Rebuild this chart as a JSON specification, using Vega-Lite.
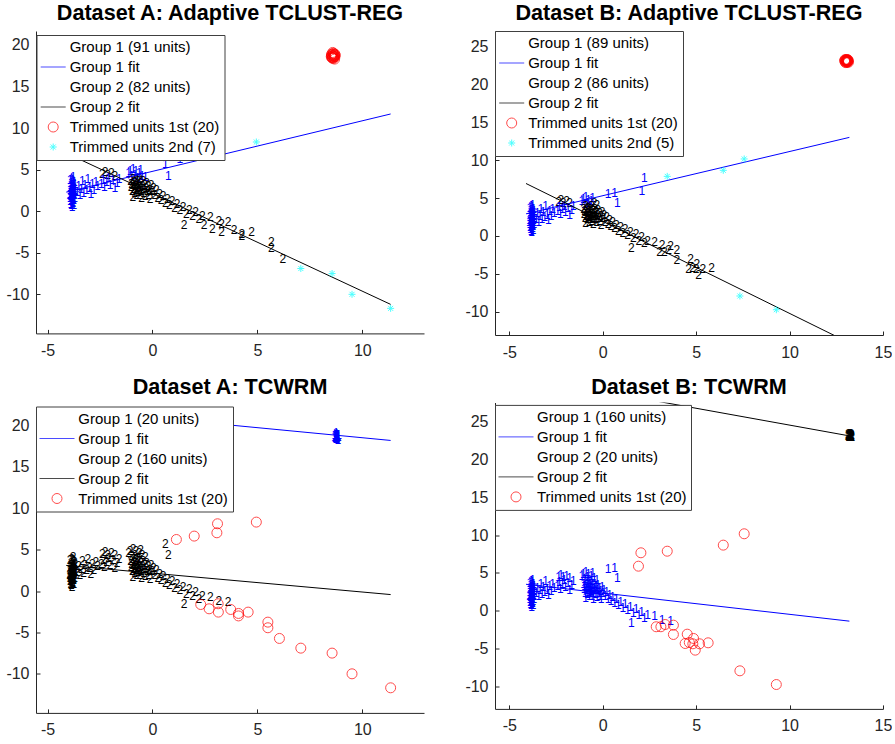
{
  "$schema": "https://vega.github.io/schema/vega-lite/v6.json",
  "background": "white",
  "padding": {"left": 5, "top": 2, "right": 0, "bottom": 0},
  "config": {
    "font": "Liberation Sans",
    "view": {"stroke": null},
    "axis": {"grid": false, "title": null, "domainColor": "#262626", "tickColor": "#262626", "labelColor": "#262626", "labelFont": "Liberation Sans", "labelFontSize": 16, "tickSize": -4, "domainWidth": 1, "tickWidth": 1, "labelFlush": false, "labelOverlap": false},
    "axisX": {"labelPadding": 13},
    "axisY": {"labelPadding": 11},
    "title": {"font": "Liberation Sans", "fontSize": 21.6, "fontWeight": "bold", "color": "#000000", "anchor": "middle", "baseline": "alphabetic"},
    "legend": {"orient": "none", "padding": 4.5, "rowPadding": 4, "labelFontSize": 15, "labelFont": "Liberation Sans", "labelColor": "#000000", "labelLimit": 0, "fillColor": "#ffffff", "strokeColor": "#404040", "symbolSize": 100, "symbolStrokeWidth": 1}
  },
  "datasets": {
    "fits": [
      {"p": "AA", "g": "1", "x": -4.11, "y": 2.3}, {"p": "AA", "g": "1", "x": 11.35, "y": 11.7},
      {"p": "AA", "g": "2", "x": -4.11, "y": 7.0}, {"p": "AA", "g": "2", "x": 11.35, "y": -11.2},
      {"p": "AB", "g": "1", "x": -4.11, "y": 2.92}, {"p": "AB", "g": "1", "x": 13.2, "y": 13.02},
      {"p": "AB", "g": "2", "x": -4.11, "y": 6.93}, {"p": "AB", "g": "2", "x": 13.2, "y": -14.12},
      {"p": "TA", "g": "1", "x": -4.11, "y": 21.95}, {"p": "TA", "g": "1", "x": 11.35, "y": 18.19},
      {"p": "TA", "g": "2", "x": -4.11, "y": 3.1}, {"p": "TA", "g": "2", "x": 11.35, "y": -0.42},
      {"p": "TB", "g": "1", "x": -4.11, "y": 3.5}, {"p": "TB", "g": "1", "x": 13.2, "y": -1.37},
      {"p": "TB", "g": "2", "x": -4.11, "y": 30.8}, {"p": "TB", "g": "2", "x": 13.2, "y": 23.1}
    ],
    "pts": [
      {"x": -4.1, "y": 2.1, "a": "1", "b": "1", "ta": "2", "tb": "1"},
      {"x": -4.08, "y": 1.6, "a": "1", "b": "1", "ta": "2", "tb": "1"},
      {"x": -4.06, "y": 2.9, "a": "1", "b": "1", "ta": "2", "tb": "1"},
      {"x": -4.05, "y": 0.9, "a": "1", "b": "1", "ta": "2", "tb": "1"},
      {"x": -4.04, "y": 3.4, "a": "1", "b": "1", "ta": "2", "tb": "1"},
      {"x": -4.03, "y": 1.3, "a": "1", "b": "1", "ta": "2", "tb": "1"},
      {"x": -4.02, "y": 2.4, "a": "1", "b": "1", "ta": "2", "tb": "1"},
      {"x": -4.01, "y": 3.9, "a": "1", "b": "1", "ta": "2", "tb": "1"},
      {"x": -4.0, "y": 1.8, "a": "1", "b": "1", "ta": "2", "tb": "1"},
      {"x": -3.99, "y": 0.5, "a": "1", "b": "1", "ta": "2", "tb": "1"},
      {"x": -3.98, "y": 2.7, "a": "1", "b": "1", "ta": "2", "tb": "1"},
      {"x": -3.97, "y": 1.1, "a": "1", "b": "1", "ta": "2", "tb": "1"},
      {"x": -3.96, "y": 3.1, "a": "1", "b": "1", "ta": "2", "tb": "1"},
      {"x": -3.95, "y": 2.0, "a": "1", "b": "1", "ta": "2", "tb": "1"},
      {"x": -3.94, "y": 1.5, "a": "1", "b": "1", "ta": "2", "tb": "1"},
      {"x": -3.93, "y": 3.6, "a": "1", "b": "1", "ta": "2", "tb": "1"},
      {"x": -3.92, "y": 2.3, "a": "1", "b": "1", "ta": "2", "tb": "1"},
      {"x": -3.91, "y": 0.8, "a": "1", "b": "1", "ta": "2", "tb": "1"},
      {"x": -3.9, "y": 2.8, "a": "1", "b": "1", "ta": "2", "tb": "1"},
      {"x": -3.89, "y": 1.9, "a": "1", "b": "1", "ta": "2", "tb": "1"},
      {"x": -4.09, "y": 2.5, "a": "1", "b": "1", "ta": "2", "tb": "1"},
      {"x": -4.07, "y": 1.2, "a": "1", "b": "1", "ta": "2", "tb": "1"},
      {"x": -4.05, "y": 3.2, "a": "1", "b": "1", "ta": "2", "tb": "1"},
      {"x": -4.03, "y": 2.0, "a": "1", "b": "1", "ta": "2", "tb": "1"},
      {"x": -4.01, "y": 1.4, "a": "1", "b": "1", "ta": "2", "tb": "1"},
      {"x": -3.99, "y": 2.6, "a": "1", "b": "1", "ta": "2", "tb": "1"},
      {"x": -3.97, "y": 3.8, "a": "1", "b": "1", "ta": "2", "tb": "1"},
      {"x": -3.95, "y": 1.0, "a": "1", "b": "1", "ta": "2", "tb": "1"},
      {"x": -3.93, "y": 2.2, "a": "1", "b": "1", "ta": "2", "tb": "1"},
      {"x": -3.91, "y": 3.0, "a": "1", "b": "1", "ta": "2", "tb": "1"},
      {"x": -4.08, "y": 3.7, "a": "1", "b": "1", "ta": "2", "tb": "1"},
      {"x": -4.06, "y": 1.8, "a": "1", "b": "1", "ta": "2", "tb": "1"},
      {"x": -4.04, "y": 2.2, "a": "1", "b": "1", "ta": "2", "tb": "1"},
      {"x": -4.02, "y": 0.7, "a": "1", "b": "1", "ta": "2", "tb": "1"},
      {"x": -4.0, "y": 2.9, "a": "1", "b": "1", "ta": "2", "tb": "1"},
      {"x": -3.98, "y": 1.7, "a": "1", "b": "1", "ta": "2", "tb": "1"},
      {"x": -3.96, "y": 2.5, "a": "1", "b": "1", "ta": "2", "tb": "1"},
      {"x": -3.94, "y": 4.1, "a": "1", "b": "1", "ta": "2", "tb": "1"},
      {"x": -3.92, "y": 1.3, "a": "1", "b": "1", "ta": "2", "tb": "1"},
      {"x": -3.9, "y": 2.1, "a": "1", "b": "1", "ta": "2", "tb": "1"},
      {"x": -3.88, "y": 2.6, "a": "1", "b": "1", "ta": "2", "tb": "1"},
      {"x": -3.87, "y": 1.6, "a": "1", "b": "1", "ta": "2", "tb": "1"},
      {"x": -3.86, "y": 3.3, "a": "1", "b": "1", "ta": "2", "tb": "1"},
      {"x": -3.85, "y": 2.4, "a": "1", "b": "1", "ta": "2", "tb": "1"},
      {"x": -4.11, "y": 1.9, "a": "1", "b": "1", "ta": "2", "tb": "1"},
      {"x": -4.0, "y": 2.3, "a": "1", "b": "1", "ta": "2", "tb": "1"},
      {"x": -3.96, "y": 1.9, "a": "1", "b": "1", "ta": "2", "tb": "1"},
      {"x": -3.92, "y": 2.7, "a": "1", "b": "1", "ta": "2", "tb": "1"},
      {"x": -4.04, "y": 1.6, "a": "1", "b": "1", "ta": "2", "tb": "1"},
      {"x": -3.88, "y": 3.5, "a": "1", "b": "1", "ta": "2", "tb": "1"},
      {"x": -3.97, "y": 2.2, "a": "1", "ta": "2"},
      {"x": -3.75, "y": 2.3, "a": "1", "b": "1", "ta": "2", "tb": "1"},
      {"x": -3.68, "y": 3.0, "a": "1", "b": "1", "ta": "2", "tb": "1"},
      {"x": -3.62, "y": 1.9, "a": "1", "b": "1", "ta": "2", "tb": "1"},
      {"x": -3.55, "y": 2.7, "a": "1", "b": "1", "ta": "2", "tb": "1"},
      {"x": -3.5, "y": 3.6, "a": "1", "b": "1", "ta": "2", "tb": "1"},
      {"x": -3.44, "y": 2.2, "a": "1", "b": "1", "ta": "2", "tb": "1"},
      {"x": -3.38, "y": 3.1, "a": "1", "b": "1", "ta": "2", "tb": "1"},
      {"x": -3.3, "y": 2.5, "a": "1", "b": "1", "ta": "2", "tb": "1"},
      {"x": -3.24, "y": 3.9, "a": "1", "b": "1", "ta": "2", "tb": "1"},
      {"x": -3.16, "y": 2.8, "a": "1", "b": "1", "ta": "2", "tb": "1"},
      {"x": -3.1, "y": 2.1, "a": "1", "b": "1", "ta": "2", "tb": "1"},
      {"x": -3.02, "y": 3.3, "a": "1", "b": "1", "ta": "2", "tb": "1"},
      {"x": -2.95, "y": 2.6, "a": "1", "b": "1", "ta": "2", "tb": "1"},
      {"x": -2.86, "y": 3.5, "a": "1", "b": "1", "ta": "2", "tb": "1"},
      {"x": -2.78, "y": 3.0, "a": "1", "b": "1", "ta": "2", "tb": "1"},
      {"x": -2.55, "y": 4.5, "a": "2", "b": "2", "ta": "2", "tb": "1"},
      {"x": -2.42, "y": 4.7, "a": "2", "b": "2", "ta": "2", "tb": "1"},
      {"x": -2.3, "y": 4.4, "a": "2", "b": "2", "ta": "2", "tb": "1"},
      {"x": -2.12, "y": 4.6, "a": "2", "b": "2", "ta": "2", "tb": "1"},
      {"x": -1.95, "y": 4.3, "a": "2", "b": "2", "ta": "2", "tb": "1"},
      {"x": -2.6, "y": 3.3, "a": "1", "b": "1", "ta": "2", "tb": "1"},
      {"x": -2.5, "y": 3.8, "a": "1", "b": "1", "ta": "2", "tb": "1"},
      {"x": -2.45, "y": 2.9, "a": "1", "b": "1", "ta": "2", "tb": "1"},
      {"x": -2.35, "y": 3.5, "a": "1", "b": "1", "ta": "2", "tb": "1"},
      {"x": -2.25, "y": 4.0, "a": "1", "b": "1", "ta": "2", "tb": "1"},
      {"x": -2.18, "y": 3.1, "a": "1", "b": "1", "ta": "2", "tb": "1"},
      {"x": -2.05, "y": 3.7, "a": "1", "b": "1", "ta": "2", "tb": "1"},
      {"x": -1.95, "y": 2.8, "a": "1", "b": "1", "ta": "2", "tb": "1"},
      {"x": -1.85, "y": 3.4, "a": "1", "b": "1", "ta": "2", "tb": "1"},
      {"x": -1.75, "y": 3.9, "a": "1", "b": "1", "ta": "2", "tb": "1"},
      {"x": -1.3, "y": 4.6, "a": "1", "b": "1", "ta": "2", "tb": "1"},
      {"x": -1.22, "y": 4.9, "a": "1", "b": "1", "ta": "2", "tb": "1"},
      {"x": -1.15, "y": 4.2, "a": "1", "b": "1", "ta": "2", "tb": "1"},
      {"x": -1.08, "y": 5.1, "a": "1", "b": "1", "ta": "2", "tb": "1"},
      {"x": -1.0, "y": 4.4, "a": "1", "b": "1", "ta": "2", "tb": "1"},
      {"x": -0.95, "y": 4.8, "a": "1", "b": "1", "ta": "2", "tb": "1"},
      {"x": -0.88, "y": 4.0, "a": "1", "b": "1", "ta": "2", "tb": "1"},
      {"x": -0.8, "y": 4.6, "a": "1", "b": "1", "ta": "2", "tb": "1"},
      {"x": -0.72, "y": 5.0, "a": "1", "b": "1", "ta": "2", "tb": "1"},
      {"x": -0.65, "y": 4.3, "a": "1", "b": "2", "ta": "2", "tb": "1"},
      {"x": -0.5, "y": 4.1, "a": "1", "b": "2", "ta": "2", "tb": "1"},
      {"x": -1.2, "y": 3.6, "a": "2", "b": "2", "ta": "2", "tb": "1"},
      {"x": -1.18, "y": 2.9, "a": "2", "b": "2", "ta": "2", "tb": "1"},
      {"x": -1.15, "y": 3.3, "a": "2", "b": "2", "ta": "2", "tb": "1"},
      {"x": -1.12, "y": 2.4, "a": "2", "b": "2", "ta": "2", "tb": "1"},
      {"x": -1.1, "y": 3.9, "a": "2", "b": "2", "ta": "2", "tb": "1"},
      {"x": -1.08, "y": 3.1, "a": "2", "b": "2", "ta": "2", "tb": "1"},
      {"x": -1.05, "y": 2.7, "a": "2", "b": "2", "ta": "2", "tb": "1"},
      {"x": -1.02, "y": 3.5, "a": "2", "b": "2", "ta": "2", "tb": "1"},
      {"x": -1.0, "y": 2.2, "a": "2", "b": "2", "ta": "2", "tb": "1"},
      {"x": -0.98, "y": 3.0, "a": "2", "b": "2", "ta": "2", "tb": "1"},
      {"x": -0.96, "y": 3.7, "a": "2", "b": "2", "ta": "2", "tb": "1"},
      {"x": -0.94, "y": 2.5, "a": "2", "b": "2", "ta": "2", "tb": "1"},
      {"x": -0.92, "y": 3.3, "a": "2", "b": "2", "ta": "2", "tb": "1"},
      {"x": -0.9, "y": 1.9, "a": "2", "b": "2", "ta": "2", "tb": "1"},
      {"x": -0.88, "y": 2.8, "a": "2", "b": "2", "ta": "2", "tb": "1"},
      {"x": -0.86, "y": 3.6, "a": "2", "b": "2", "ta": "2", "tb": "1"},
      {"x": -0.84, "y": 2.3, "a": "2", "b": "2", "ta": "2", "tb": "1"},
      {"x": -0.82, "y": 3.1, "a": "2", "b": "2", "ta": "2", "tb": "1"},
      {"x": -0.8, "y": 2.6, "a": "2", "b": "2", "ta": "2", "tb": "1"},
      {"x": -0.78, "y": 3.9, "a": "2", "b": "2", "ta": "2", "tb": "1"},
      {"x": -0.76, "y": 2.0, "a": "2", "b": "2", "ta": "2", "tb": "1"},
      {"x": -0.74, "y": 2.9, "a": "2", "b": "2", "ta": "2", "tb": "1"},
      {"x": -0.72, "y": 3.4, "a": "2", "b": "2", "ta": "2", "tb": "1"},
      {"x": -0.7, "y": 2.4, "a": "2", "b": "2", "ta": "2", "tb": "1"},
      {"x": -0.68, "y": 1.6, "a": "2", "b": "2", "ta": "2", "tb": "1"},
      {"x": -0.65, "y": 3.0, "a": "2", "b": "2", "ta": "2", "tb": "1"},
      {"x": -0.62, "y": 2.7, "a": "2", "b": "2", "ta": "2", "tb": "1"},
      {"x": -0.6, "y": 3.6, "a": "2", "b": "2", "ta": "2", "tb": "1"},
      {"x": -0.57, "y": 2.2, "a": "2", "b": "2", "ta": "2", "tb": "1"},
      {"x": -0.54, "y": 3.2, "a": "2", "b": "2", "ta": "2", "tb": "1"},
      {"x": -0.5, "y": 1.8, "a": "2", "b": "2", "ta": "2", "tb": "1"},
      {"x": -0.47, "y": 2.8, "a": "2", "b": "2", "ta": "2", "tb": "1"},
      {"x": -0.44, "y": 3.4, "a": "2", "b": "2", "ta": "2", "tb": "1"},
      {"x": -0.4, "y": 2.4, "a": "2", "b": "2", "ta": "2", "tb": "1"},
      {"x": -0.37, "y": 3.0, "a": "2", "b": "2", "ta": "2", "tb": "1"},
      {"x": -0.34, "y": 2.0, "a": "2", "b": "2", "ta": "2", "tb": "1"},
      {"x": -0.3, "y": 2.6, "a": "2", "b": "2", "ta": "2", "tb": "1"},
      {"x": -0.27, "y": 1.5, "a": "2", "b": "2", "ta": "2", "tb": "1"},
      {"x": -1.1, "y": 1.7, "a": "2", "b": "2", "ta": "2", "tb": "1"},
      {"x": 0.1, "y": 5.5, "b": "1", "tb": "1"},
      {"x": 0.45, "y": 5.7, "a": "1", "b": "1", "ta": "2", "tb": "1"},
      {"x": 0.6, "y": 4.3, "a": "1", "b": "1", "ta": "2", "tb": "1"},
      {"x": -0.22, "y": 3.2, "a": "2", "b": "2", "ta": "2", "tb": "1"},
      {"x": -0.18, "y": 2.4, "a": "2", "b": "2", "ta": "2", "tb": "1"},
      {"x": -0.12, "y": 2.8, "a": "2", "b": "2", "ta": "2", "tb": "1"},
      {"x": -0.05, "y": 1.9, "a": "2", "b": "2", "ta": "2", "tb": "1"},
      {"x": 0.02, "y": 2.5, "a": "2", "b": "2", "ta": "2", "tb": "1"},
      {"x": 0.1, "y": 1.6, "a": "2", "b": "2", "ta": "2", "tb": "1"},
      {"x": 0.18, "y": 2.1, "a": "2", "b": "2", "ta": "2", "tb": "1"},
      {"x": 0.25, "y": 1.3, "a": "2", "b": "2", "ta": "2", "tb": "1"},
      {"x": 0.35, "y": 1.8, "a": "2", "b": "2", "ta": "2", "tb": "1"},
      {"x": 0.45, "y": 1.0, "a": "2", "b": "2", "ta": "2", "tb": "1"},
      {"x": 0.55, "y": 1.5, "a": "2", "b": "2", "ta": "2", "tb": "1"},
      {"x": 0.65, "y": 0.7, "a": "2", "b": "2", "ta": "2", "tb": "1"},
      {"x": 0.78, "y": 1.2, "a": "2", "b": "2", "ta": "2", "tb": "1"},
      {"x": 0.9, "y": 0.4, "a": "2", "b": "2", "ta": "2", "tb": "1"},
      {"x": 1.02, "y": 0.9, "a": "2", "b": "2", "ta": "2", "tb": "1"},
      {"x": 1.15, "y": 0.1, "a": "2", "b": "2", "ta": "2", "tb": "1"},
      {"x": 1.3, "y": 0.5, "a": "2", "b": "2", "ta": "2", "tb": "1"},
      {"x": 1.35, "y": -1.6, "a": "2", "b": "2", "ta": "2", "tb": "1"},
      {"x": 1.45, "y": -0.3, "a": "2", "b": "2", "ta": "2", "tb": "1"},
      {"x": 1.6, "y": 0.2, "a": "2", "b": "2", "ta": "2", "tb": "1"},
      {"x": 1.75, "y": -0.6, "a": "2", "b": "2", "ta": "2", "tb": "1"},
      {"x": 1.9, "y": -0.1, "a": "2", "b": "2", "ta": "2", "tb": "1"},
      {"x": 2.05, "y": -0.9, "a": "2", "b": "2", "ta": "2", "tb": "1"},
      {"x": 2.22, "y": -0.6, "a": "2", "b": "2", "ta": "2", "tb": "1"},
      {"x": 2.6, "y": -0.75, "a": "2", "b": "2", "ta": "2", "tb": "1"},
      {"x": 3.0, "y": -1.2, "a": "2", "b": "2", "ta": "2", "tb": "1"},
      {"x": 3.45, "y": -1.35, "a": "2", "b": "2", "ta": "2", "tb": "1"},

      {"x": 1.14, "y": 6.23, "a": "1", "ta": "o"},
      {"x": 1.99, "y": 6.64, "a": "1", "ta": "o"},
      {"x": 3.1, "y": 8.13, "a": "c", "ta": "o"},
      {"x": 3.07, "y": 7.04, "a": "c", "ta": "o"},
      {"x": 4.95, "y": 8.33, "a": "c", "ta": "o"},
      {"x": 2.3, "y": -1.62, "a": "2", "ta": "o"},
      {"x": 2.7, "y": -2.14, "a": "2", "ta": "o"},
      {"x": 3.13, "y": -1.53, "a": "2", "ta": "o"},
      {"x": 3.14, "y": -2.54, "a": "2", "ta": "o"},
      {"x": 3.73, "y": -2.22, "a": "2", "ta": "o"},
      {"x": 4.1, "y": -2.7, "a": "2", "ta": "o"},
      {"x": 4.1, "y": -3.0, "a": "2", "ta": "o"},
      {"x": 4.56, "y": -2.54, "a": "2", "ta": "o"},
      {"x": 5.5, "y": -3.75, "a": "2", "ta": "o"},
      {"x": 5.5, "y": -4.43, "a": "2", "ta": "o"},
      {"x": 6.05, "y": -5.72, "a": "2", "ta": "o"},
      {"x": 7.07, "y": -6.89, "a": "c", "ta": "o"},
      {"x": 8.56, "y": -7.49, "a": "c", "ta": "o"},
      {"x": 9.51, "y": -9.99, "a": "c", "ta": "o"},
      {"x": 11.35, "y": -11.68, "a": "c", "ta": "o"},
      {"x": 8.52, "y": 18.6, "a": "o", "ta": "1"},
      {"x": 8.55, "y": 18.9, "a": "o", "ta": "1"},
      {"x": 8.58, "y": 18.4, "a": "o", "ta": "1"},
      {"x": 8.6, "y": 18.7, "a": "o", "ta": "1"},
      {"x": 8.62, "y": 19.0, "a": "o", "ta": "1"},
      {"x": 8.64, "y": 18.5, "a": "o", "ta": "1"},
      {"x": 8.66, "y": 18.8, "a": "o", "ta": "1"},
      {"x": 8.68, "y": 18.3, "a": "o", "ta": "1"},
      {"x": 8.7, "y": 18.6, "a": "o", "ta": "1"},
      {"x": 8.53, "y": 18.8, "a": "o", "ta": "1"},
      {"x": 8.57, "y": 18.5, "a": "o", "ta": "1"},
      {"x": 8.61, "y": 18.9, "a": "o", "ta": "1"},
      {"x": 8.65, "y": 18.6, "a": "o", "ta": "1"},
      {"x": 8.69, "y": 18.9, "a": "o", "ta": "1"},
      {"x": 8.56, "y": 18.7, "a": "o", "ta": "1"},
      {"x": 8.63, "y": 18.4, "a": "o", "ta": "1"},
      {"x": 8.67, "y": 18.7, "a": "o", "ta": "1"},
      {"x": 8.59, "y": 19.1, "a": "o", "ta": "1"},
      {"x": 8.54, "y": 18.5, "a": "o", "ta": "1"},
      {"x": 8.71, "y": 18.8, "a": "o", "ta": "1"},

      {"x": 2.04, "y": 7.66, "b": "1", "tb": "o"},
      {"x": 1.91, "y": 5.89, "b": "1", "tb": "o"},
      {"x": 3.45, "y": 7.87, "b": "c", "tb": "o"},
      {"x": 6.45, "y": 8.67, "b": "c", "tb": "o"},
      {"x": 7.57, "y": 10.17, "b": "c", "tb": "o"},
      {"x": 2.86, "y": -2.11, "b": "2", "tb": "o"},
      {"x": 3.11, "y": -2.11, "b": "2", "tb": "o"},
      {"x": 3.34, "y": -1.81, "b": "2", "tb": "o"},
      {"x": 3.78, "y": -1.9, "b": "2", "tb": "o"},
      {"x": 3.78, "y": -3.13, "b": "2", "tb": "o"},
      {"x": 4.52, "y": -3.09, "b": "2", "tb": "o"},
      {"x": 4.41, "y": -4.32, "b": "2", "tb": "o"},
      {"x": 4.63, "y": -4.19, "b": "2", "tb": "o"},
      {"x": 4.86, "y": -3.66, "b": "2", "tb": "o"},
      {"x": 4.95, "y": -5.2, "b": "2", "tb": "o"},
      {"x": 5.18, "y": -4.36, "b": "2", "tb": "o"},
      {"x": 4.82, "y": -4.36, "b": "2", "tb": "o"},
      {"x": 5.64, "y": -4.23, "b": "2", "tb": "o"},
      {"x": 7.34, "y": -7.93, "b": "c", "tb": "o"},
      {"x": 9.29, "y": -9.74, "b": "c", "tb": "o"},
      {"x": 12.95, "y": 23.1, "b": "o", "tb": "2"},
      {"x": 12.97, "y": 23.3, "b": "o", "tb": "2"},
      {"x": 12.99, "y": 22.9, "b": "o", "tb": "2"},
      {"x": 13.0, "y": 23.2, "b": "o", "tb": "2"},
      {"x": 13.02, "y": 23.0, "b": "o", "tb": "2"},
      {"x": 13.04, "y": 23.3, "b": "o", "tb": "2"},
      {"x": 13.05, "y": 23.1, "b": "o", "tb": "2"},
      {"x": 13.07, "y": 22.9, "b": "o", "tb": "2"},
      {"x": 13.08, "y": 23.2, "b": "o", "tb": "2"},
      {"x": 13.1, "y": 23.0, "b": "o", "tb": "2"},
      {"x": 13.11, "y": 23.3, "b": "o", "tb": "2"},
      {"x": 13.12, "y": 23.1, "b": "o", "tb": "2"},
      {"x": 13.14, "y": 23.2, "b": "o", "tb": "2"},
      {"x": 13.15, "y": 22.95, "b": "o", "tb": "2"},
      {"x": 12.96, "y": 23.2, "b": "o", "tb": "2"},
      {"x": 13.01, "y": 23.05, "b": "o", "tb": "2"},
      {"x": 13.06, "y": 23.25, "b": "o", "tb": "2"},
      {"x": 13.09, "y": 23.15, "b": "o", "tb": "2"},
      {"x": 13.13, "y": 23.05, "b": "o", "tb": "2"},
      {"x": 13.03, "y": 23.15, "b": "o", "tb": "2"}
    ]
  },
  "concat": [
    {
      "width": 388, "height": 302.4,
      "title": {"text": "Dataset A: Adaptive TCLUST-REG", "offset": 6.3},
      "encoding": {
        "x": {"field": "x", "type": "quantitative", "scale": {"domain": [-5.55, 12.94], "nice": false, "zero": false}, "axis": {"values": [-5, 0, 5, 10], "labelExpr": "'' + datum.value"}},
        "y": {"field": "y", "type": "quantitative", "scale": {"domain": [-14.69, 21.68], "nice": false, "zero": false}, "axis": {"values": [-10, -5, 0, 5, 10, 15, 20], "labelExpr": "'' + datum.value"}}
      },
      "layer": [
        {"data": {"name": "pts"}, "transform": [{"filter": "datum.a == '1' || datum.a == '2'"}],
         "mark": {"type": "text", "align": "left", "baseline": "middle", "fontSize": 12, "font": "Liberation Sans"},
         "encoding": {"text": {"field": "a"}, "color": {"condition": {"test": "datum.a == '1'", "value": "#0000ff"}, "value": "#000000"}}},
        {"data": {"name": "fits"}, "transform": [{"filter": "datum.p == 'AA'"}],
         "mark": {"type": "line", "clip": true, "strokeWidth": 1},
         "encoding": {"detail": {"field": "g"}, "color": {"condition": {"test": "datum.g == '1'", "value": "#0000ff"}, "value": "#000000"}}},
        {"data": {"name": "pts"}, "transform": [{"filter": "datum.a == 'o'"}],
         "mark": {"type": "point", "shape": "circle", "filled": false, "size": 100, "strokeWidth": 1, "color": "#ff0000"}},
        {"data": {"name": "pts"}, "transform": [{"filter": "datum.a == 'c'"}],
         "mark": {"type": "point", "shape": "M-0.7,0H0.7M0,-0.7V0.7M-0.5,-0.5L0.5,0.5M-0.5,0.5L0.5,-0.5", "filled": false, "size": 100, "strokeWidth": 1, "color": "#00ffff"}},
        {"data": {"name": "pts"}, "transform": [{"filter": "false"}],
         "mark": {"type": "point", "filled": false, "size": 100, "strokeWidth": 1},
         "encoding": {
           "color": {"field": "lgAA", "type": "nominal",
             "scale": {"domain": ["Group 1 (91 units)", "Group 1 fit", "Group 2 (82 units)", "Group 2 fit", "Trimmed units 1st (20)", "Trimmed units 2nd (7)"],
                       "range": ["rgba(0,0,0,0)", "#0000ff", "rgba(0,0,0,0)", "#000000", "#ff0000", "#00ffff"]},
             "legend": {"title": null, "legendX": 0.5, "legendY": 4, "symbolOffset": 4.7, "labelOffset": 9}},
           "shape": {"field": "lgAA", "type": "nominal",
             "scale": {"domain": ["Group 1 (91 units)", "Group 1 fit", "Group 2 (82 units)", "Group 2 fit", "Trimmed units 1st (20)", "Trimmed units 2nd (7)"],
                       "range": ["circle", "M-2.5,0H2.5", "circle", "M-2.5,0H2.5", "circle", "M-0.7,0H0.7M0,-0.7V0.7M-0.5,-0.5L0.5,0.5M-0.5,0.5L0.5,-0.5"]}}
         }}
      ]
    },
    {
      "width": 388, "height": 304,
      "title": {"text": "Dataset B: Adaptive TCLUST-REG", "offset": 6.3},
      "encoding": {
        "x": {"field": "x", "type": "quantitative", "scale": {"domain": [-5.77, 15], "nice": false, "zero": false}, "axis": {"values": [-5, 0, 5, 10, 15], "labelExpr": "'' + datum.value"}},
        "y": {"field": "y", "type": "quantitative", "scale": {"domain": [-13.08, 27.07], "nice": false, "zero": false}, "axis": {"values": [-10, -5, 0, 5, 10, 15, 20, 25], "labelExpr": "'' + datum.value"}}
      },
      "layer": [
        {"data": {"name": "pts"}, "transform": [{"filter": "datum.b == '1' || datum.b == '2'"}],
         "mark": {"type": "text", "align": "left", "baseline": "middle", "fontSize": 12, "font": "Liberation Sans"},
         "encoding": {"text": {"field": "b"}, "color": {"condition": {"test": "datum.b == '1'", "value": "#0000ff"}, "value": "#000000"}}},
        {"data": {"name": "fits"}, "transform": [{"filter": "datum.p == 'AB'"}],
         "mark": {"type": "line", "clip": true, "strokeWidth": 1},
         "encoding": {"detail": {"field": "g"}, "color": {"condition": {"test": "datum.g == '1'", "value": "#0000ff"}, "value": "#000000"}}},
        {"data": {"name": "pts"}, "transform": [{"filter": "datum.b == 'o'"}],
         "mark": {"type": "point", "shape": "circle", "filled": false, "size": 100, "strokeWidth": 1, "color": "#ff0000"}},
        {"data": {"name": "pts"}, "transform": [{"filter": "datum.b == 'c'"}],
         "mark": {"type": "point", "shape": "M-0.7,0H0.7M0,-0.7V0.7M-0.5,-0.5L0.5,0.5M-0.5,0.5L0.5,-0.5", "filled": false, "size": 100, "strokeWidth": 1, "color": "#00ffff"}},
        {"data": {"name": "pts"}, "transform": [{"filter": "false"}],
         "mark": {"type": "point", "filled": false, "size": 100, "strokeWidth": 1},
         "encoding": {
           "color": {"field": "lgAB", "type": "nominal",
             "scale": {"domain": ["Group 1 (89 units)", "Group 1 fit", "Group 2 (86 units)", "Group 2 fit", "Trimmed units 1st (20)", "Trimmed units 2nd (5)"],
                       "range": ["rgba(0,0,0,0)", "#0000ff", "rgba(0,0,0,0)", "#000000", "#ff0000", "#00ffff"]},
             "legend": {"title": null, "legendX": 0, "legendY": 0, "symbolOffset": 4.7, "labelOffset": 9}},
           "shape": {"field": "lgAB", "type": "nominal",
             "scale": {"domain": ["Group 1 (89 units)", "Group 1 fit", "Group 2 (86 units)", "Group 2 fit", "Trimmed units 1st (20)", "Trimmed units 2nd (5)"],
                       "range": ["circle", "M-2.5,0H2.5", "circle", "M-2.5,0H2.5", "circle", "M-0.7,0H0.7M0,-0.7V0.7M-0.5,-0.5L0.5,0.5M-0.5,0.5L0.5,-0.5"]}}
         }}
      ]
    },
    {
      "width": 388, "height": 306.4,
      "title": {"text": "Dataset A: TCWRM", "offset": 7},
      "encoding": {
        "x": {"field": "x", "type": "quantitative", "scale": {"domain": [-5.55, 12.94], "nice": false, "zero": false}, "axis": {"values": [-5, 0, 5, 10], "labelExpr": "'' + datum.value"}},
        "y": {"field": "y", "type": "quantitative", "scale": {"domain": [-14.71, 22.29], "nice": false, "zero": false}, "axis": {"values": [-10, -5, 0, 5, 10, 15, 20], "labelExpr": "'' + datum.value"}}
      },
      "layer": [
        {"data": {"name": "pts"}, "transform": [{"filter": "datum.ta == '1' || datum.ta == '2'"}],
         "mark": {"type": "text", "align": "left", "baseline": "middle", "fontSize": 12, "font": "Liberation Sans"},
         "encoding": {"text": {"field": "ta"}, "color": {"condition": {"test": "datum.ta == '1'", "value": "#0000ff"}, "value": "#000000"}}},
        {"data": {"name": "fits"}, "transform": [{"filter": "datum.p == 'TA'"}],
         "mark": {"type": "line", "clip": true, "strokeWidth": 1},
         "encoding": {"detail": {"field": "g"}, "color": {"condition": {"test": "datum.g == '1'", "value": "#0000ff"}, "value": "#000000"}}},
        {"data": {"name": "pts"}, "transform": [{"filter": "datum.ta == 'o'"}],
         "mark": {"type": "point", "shape": "circle", "filled": false, "size": 100, "strokeWidth": 1, "color": "#ff0000"}},
        {"data": {"name": "pts"}, "transform": [{"filter": "false"}],
         "mark": {"type": "point", "filled": false, "size": 100, "strokeWidth": 1},
         "encoding": {
           "color": {"field": "lgTA", "type": "nominal",
             "scale": {"domain": ["Group 1 (20 units)", "Group 1 fit", "Group 2 (160 units)", "Group 2 fit", "Trimmed units 1st (20)"],
                       "range": ["rgba(0,0,0,0)", "#0000ff", "rgba(0,0,0,0)", "#000000", "#ff0000"]},
             "legend": {"title": null, "legendX": 0, "legendY": 0, "symbolOffset": 9, "labelOffset": 13.8}},
           "shape": {"field": "lgTA", "type": "nominal",
             "scale": {"domain": ["Group 1 (20 units)", "Group 1 fit", "Group 2 (160 units)", "Group 2 fit", "Trimmed units 1st (20)"],
                       "range": ["circle", "M-3.5,0H3.5", "circle", "M-3.5,0H3.5", "circle"]}}
         }}
      ]
    },
    {
      "width": 388, "height": 306.4,
      "title": {"text": "Dataset B: TCWRM", "offset": 4.3},
      "encoding": {
        "x": {"field": "x", "type": "quantitative", "scale": {"domain": [-5.77, 15], "nice": false, "zero": false}, "axis": {"values": [-5, 0, 5, 10, 15], "labelExpr": "'' + datum.value"}},
        "y": {"field": "y", "type": "quantitative", "scale": {"domain": [-12.96, 27.51], "nice": false, "zero": false}, "axis": {"values": [-10, -5, 0, 5, 10, 15, 20, 25], "labelExpr": "'' + datum.value"}}
      },
      "layer": [
        {"data": {"name": "pts"}, "transform": [{"filter": "datum.tb == '1' || datum.tb == '2'"}],
         "mark": {"type": "text", "align": "left", "baseline": "middle", "fontSize": 12, "font": "Liberation Sans"},
         "encoding": {"text": {"field": "tb"}, "color": {"condition": {"test": "datum.tb == '1'", "value": "#0000ff"}, "value": "#000000"}}},
        {"data": {"name": "fits"}, "transform": [{"filter": "datum.p == 'TB'"}],
         "mark": {"type": "line", "clip": true, "strokeWidth": 1},
         "encoding": {"detail": {"field": "g"}, "color": {"condition": {"test": "datum.g == '1'", "value": "#0000ff"}, "value": "#000000"}}},
        {"data": {"name": "pts"}, "transform": [{"filter": "datum.tb == 'o'"}],
         "mark": {"type": "point", "shape": "circle", "filled": false, "size": 100, "strokeWidth": 1, "color": "#ff0000"}},
        {"data": {"name": "pts"}, "transform": [{"filter": "false"}],
         "mark": {"type": "point", "filled": false, "size": 100, "strokeWidth": 1},
         "encoding": {
           "color": {"field": "lgTB", "type": "nominal",
             "scale": {"domain": ["Group 1 (160 units)", "Group 1 fit", "Group 2 (20 units)", "Group 2 fit", "Trimmed units 1st (20)"],
                       "range": ["rgba(0,0,0,0)", "#0000ff", "rgba(0,0,0,0)", "#000000", "#ff0000"]},
             "legend": {"title": null, "legendX": 0, "legendY": 2.4, "symbolOffset": 9, "labelOffset": 13.5}},
           "shape": {"field": "lgTB", "type": "nominal",
             "scale": {"domain": ["Group 1 (160 units)", "Group 1 fit", "Group 2 (20 units)", "Group 2 fit", "Trimmed units 1st (20)"],
                       "range": ["circle", "M-3.5,0H3.5", "circle", "M-3.5,0H3.5", "circle"]}}
         }}
      ]
    }
  ],
  "columns": 2,
  "align": "none",
  "spacing": {"row": 16.5, "column": 40},
  "resolve": {
    "scale": {"color": "independent", "shape": "independent"},
    "legend": {"color": "independent", "shape": "independent"}
  }
}
